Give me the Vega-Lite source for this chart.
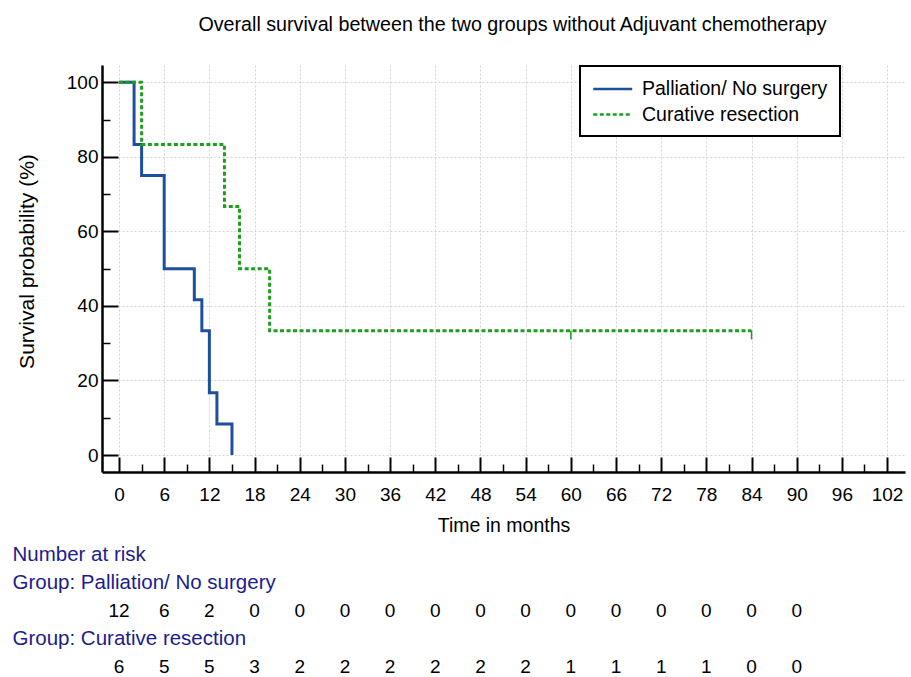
{
  "$schema": "https://vega.github.io/schema/vega-lite/v6.json",
  "padding": {"left": 12, "top": 15, "right": 6, "bottom": 0},
  "background": "white",
  "config": {
    "font": "Liberation Sans",
    "view": {"stroke": null},
    "axis": {"labelFont": "Liberation Sans", "titleFont": "Liberation Sans", "labelColor": "black", "titleColor": "black", "titleFontWeight": "normal"}
  },
  "datasets": {
    "km": [
      {"group": "Palliation/ No surgery", "time": 0, "survival": 100},
      {"group": "Palliation/ No surgery", "time": 2, "survival": 83.33},
      {"group": "Palliation/ No surgery", "time": 3, "survival": 75},
      {"group": "Palliation/ No surgery", "time": 6, "survival": 50},
      {"group": "Palliation/ No surgery", "time": 10, "survival": 41.67},
      {"group": "Palliation/ No surgery", "time": 11, "survival": 33.33},
      {"group": "Palliation/ No surgery", "time": 12, "survival": 16.67},
      {"group": "Palliation/ No surgery", "time": 13, "survival": 8.33},
      {"group": "Palliation/ No surgery", "time": 15, "survival": 0},
      {"group": "Curative resection", "time": 0, "survival": 100},
      {"group": "Curative resection", "time": 3, "survival": 83.33},
      {"group": "Curative resection", "time": 14, "survival": 66.67},
      {"group": "Curative resection", "time": 16, "survival": 50},
      {"group": "Curative resection", "time": 20, "survival": 33.33},
      {"group": "Curative resection", "time": 84, "survival": 33.33}
    ],
    "censor": [
      {"group": "Curative resection", "time": 60, "survival": 33.33},
      {"group": "Curative resection", "time": 84, "survival": 33.33}
    ],
    "risk": [
      {"row": "p", "time": 0, "n": 12}, {"row": "p", "time": 6, "n": 6}, {"row": "p", "time": 12, "n": 2},
      {"row": "p", "time": 18, "n": 0}, {"row": "p", "time": 24, "n": 0}, {"row": "p", "time": 30, "n": 0},
      {"row": "p", "time": 36, "n": 0}, {"row": "p", "time": 42, "n": 0}, {"row": "p", "time": 48, "n": 0},
      {"row": "p", "time": 54, "n": 0}, {"row": "p", "time": 60, "n": 0}, {"row": "p", "time": 66, "n": 0},
      {"row": "p", "time": 72, "n": 0}, {"row": "p", "time": 78, "n": 0}, {"row": "p", "time": 84, "n": 0},
      {"row": "p", "time": 90, "n": 0},
      {"row": "c", "time": 0, "n": 6}, {"row": "c", "time": 6, "n": 5}, {"row": "c", "time": 12, "n": 5},
      {"row": "c", "time": 18, "n": 3}, {"row": "c", "time": 24, "n": 2}, {"row": "c", "time": 30, "n": 2},
      {"row": "c", "time": 36, "n": 2}, {"row": "c", "time": 42, "n": 2}, {"row": "c", "time": 48, "n": 2},
      {"row": "c", "time": 54, "n": 2}, {"row": "c", "time": 60, "n": 1}, {"row": "c", "time": 66, "n": 1},
      {"row": "c", "time": 72, "n": 1}, {"row": "c", "time": 78, "n": 1}, {"row": "c", "time": 84, "n": 0},
      {"row": "c", "time": 90, "n": 0}
    ]
  },
  "spacing": 9,
  "vconcat": [
    {
      "width": 803,
      "height": 407,
      "title": {"text": "Overall survival between the two groups without Adjuvant chemotherapy", "fontSize": 19.7, "fontWeight": "normal", "font": "Liberation Sans", "offset": 30, "dx": 9, "color": "black"},
      "resolve": {"axis": {"x": "independent", "y": "independent"}},
      "layer": [
        {
          "data": {"name": "km"},
          "mark": {"type": "line", "interpolate": "step-after", "strokeWidth": 3},
          "encoding": {
            "x": {"field": "time", "type": "quantitative", "scale": {"domain": [-2.26, 104.38], "nice": false, "zero": false},
              "axis": {"orient": "bottom", "values": [0,6,12,18,24,30,36,42,48,54,60,66,72,78,84,90,96,102], "title": "Time in months", "titleFontSize": 19.5, "titlePadding": 12, "labelFontSize": 19, "labelPadding": 28, "tickSize": -15, "tickWidth": 2, "tickColor": "black", "domainColor": "black", "domainWidth": 2.5, "grid": true, "gridColor": "#d2d2d2", "gridDash": [2, 2], "gridWidth": 1, "labelFlush": false, "labelOverlap": false}},
            "y": {"field": "survival", "type": "quantitative", "scale": {"domain": [-4.56, 104.64], "nice": false, "zero": false},
              "axis": {"orient": "left", "values": [0,20,40,60,80,100], "title": "Survival probability (%)", "titleFontSize": 21, "titlePadding": 29, "titleY": 196, "labelFontSize": 19, "labelPadding": 20, "tickSize": -16, "tickWidth": 2, "tickColor": "black", "domainColor": "black", "domainWidth": 2.5, "grid": true, "gridColor": "#d2d2d2", "gridDash": [2, 2], "gridWidth": 1, "labelFlush": false, "labelOverlap": false}},
            "color": {"field": "group", "type": "nominal", "scale": {"domain": ["Palliation/ No surgery", "Curative resection"], "range": ["#1d4f9f", "#1e9e1e"]},
              "legend": {"title": null, "orient": "none", "legendX": 478, "legendY": 1, "strokeColor": "black", "fillColor": "white", "padding": 12, "symbolType": "M-1,0H3", "symbolSize": 380, "symbolStrokeWidth": 2.5, "labelFontSize": 19.5, "labelOffset": 28, "labelLimit": 400, "rowPadding": 4.5, "labelFont": "Liberation Sans", "labelColor": "black", "cornerRadius": 0, "encode": {"legend": {"update": {"strokeWidth": {"value": 2}}}}}},
            "strokeDash": {"field": "group", "type": "nominal", "scale": {"domain": ["Palliation/ No surgery", "Curative resection"], "range": [[1, 0], [4, 2.5]]},
              "legend": {"title": null, "orient": "none", "legendX": 478, "legendY": 1, "strokeColor": "black", "fillColor": "white", "padding": 12, "symbolType": "M-1,0H3", "symbolSize": 380, "symbolStrokeWidth": 2.5, "labelFontSize": 19.5, "labelOffset": 28, "labelLimit": 400, "rowPadding": 4.5, "labelFont": "Liberation Sans", "labelColor": "black", "cornerRadius": 0, "encode": {"legend": {"update": {"strokeWidth": {"value": 2}}}}}}
          }
        },
        {
          "data": {"name": "censor"},
          "mark": {"type": "rule", "color": "#1e9e1e", "strokeWidth": 1.5},
          "encoding": {
            "x": {"field": "time", "type": "quantitative",
              "axis": {"orient": "bottom", "values": [3,9,15,21,27,33,39,45,51,57,63,69,75,81,87,93,99], "title": null, "labels": false, "domain": false, "grid": false, "tickSize": -8, "tickWidth": 1.5, "tickColor": "black"}},
            "y": {"field": "survival", "type": "quantitative",
              "axis": {"orient": "left", "values": [10,30,50,70,90], "title": null, "labels": false, "domain": false, "grid": false, "tickSize": -8, "tickWidth": 1.5, "tickColor": "black"}},
            "y2": {"datum": 31.0}
          }
        },
        {
          "mark": {"type": "text", "fontSize": 19, "font": "Liberation Sans", "color": "white", "stroke": "white", "strokeWidth": 9, "align": "center", "baseline": "middle"},
          "encoding": {
            "x": {"datum": 64.8, "type": "quantitative", "axis": null},
            "y": {"datum": 59.8, "type": "quantitative", "axis": null},
            "text": {"value": "HR=0.18,95% CI:0.05-0.57, p value=0.001"}
          }
        },
        {
          "mark": {"type": "text", "fontSize": 19, "font": "Liberation Sans", "color": "black", "align": "center", "baseline": "middle"},
          "encoding": {
            "x": {"datum": 64.8, "type": "quantitative", "axis": null},
            "y": {"datum": 59.8, "type": "quantitative", "axis": null},
            "text": {"value": "HR=0.18,95% CI:0.05-0.57, p value=0.001"}
          }
        }
      ]
    },
    {
      "width": 803,
      "height": 113,
      "data": {"name": "risk"},
      "mark": {"type": "text", "fontSize": 19, "font": "Liberation Sans", "color": "black", "baseline": "middle"},
      "encoding": {
        "x": {"field": "time", "type": "quantitative", "scale": {"domain": [-2.26, 104.38], "nice": false, "zero": false}, "axis": null},
        "y": {"field": "row", "type": "nominal", "scale": {"type": "point", "domain": ["Number at risk", "Group: Palliation/ No surgery", "p", "Group: Curative resection", "c"], "padding": 0},
          "axis": {"title": null, "domain": false, "ticks": false, "grid": false, "labelAlign": "left", "labelPadding": 90, "labelFontSize": 20.5, "labelColor": "#1c1c8e", "labelLimit": 600, "labelExpr": "length(datum.label) < 3 ? '' : datum.label"}},
        "text": {"field": "n", "type": "quantitative"}
      }
    }
  ]
}
